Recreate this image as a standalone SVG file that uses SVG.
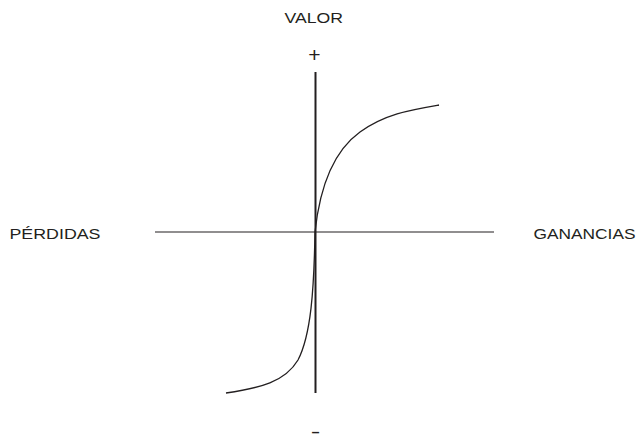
<svg xmlns="http://www.w3.org/2000/svg" width="636" height="442" viewBox="0 0 636 442">
<style>
text{font-family:"Liberation Sans",Arial,sans-serif;fill:#231f20}
.lbl{font-size:15px}
.axis{stroke:#231f20;fill:none}
.curve{stroke:#231f20;stroke-width:1.3;fill:none}
</style>
<rect width="636" height="442" fill="#fff"/>
<g id="axes">
<line class="axis" x1="155" y1="232" x2="494" y2="232" stroke-width="1.2" stroke="#555"/>
<line class="axis" x1="315.5" y1="72" x2="315.5" y2="393" stroke-width="2"/>
</g>
<g id="curve">
<path class="curve" d="M315,232 C320,185 335,150 360,132 C385,114 410,110 439,105"/>
<path class="curve" d="M315,232 C314,290 311,335 298,360 C285,382 260,388 226,393"/>
</g>
<g id="labels">
<text class="lbl" x="284.5" y="23" textLength="58.5" lengthAdjust="spacingAndGlyphs">VALOR</text>
<text x="314.5" y="62.4" text-anchor="middle" style="font-size:21px">+</text>
<text class="lbl" x="9.5" y="239" textLength="91" lengthAdjust="spacingAndGlyphs">PÉRDIDAS</text>
<text class="lbl" x="533.5" y="239" textLength="102" lengthAdjust="spacingAndGlyphs">GANANCIAS</text>
<text transform="translate(315.5,437.5) scale(1.6,1)" text-anchor="middle" style="font-size:18px">-</text>
</g>
</svg>
